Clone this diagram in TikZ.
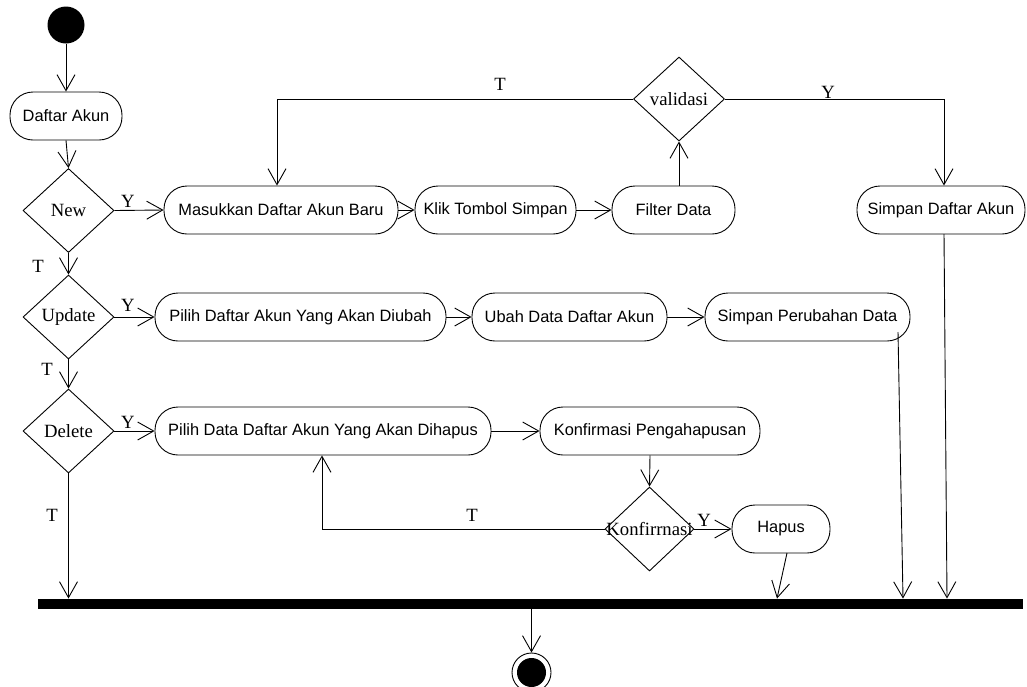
\documentclass[tikz,border=0pt]{standalone}
\usepackage{fontspec}
\setmainfont{Liberation Serif}
\setsansfont{Liberation Sans}
\usetikzlibrary{arrows.meta,shapes.geometric}
\begin{document}
\begin{tikzpicture}[x=1pt,y=-1pt,
  line width=0.9pt,
  flow/.style={-{Straight Barb[length=16pt,width=18pt,line width=0.9pt]}},
  activity/.style={draw,rectangle,rounded corners=23pt,minimum height=48pt,inner sep=0pt,
    font=\sffamily\fontsize{16.4}{19}\selectfont},
  choice/.style={draw,diamond,inner sep=0pt,minimum width=91pt,minimum height=84pt},
  choicetext/.style={font=\rmfamily\fontsize{18.7}{22}\selectfont},
  guard/.style={font=\rmfamily\fontsize{18.7}{22}\selectfont,inner sep=0pt}]
\useasboundingbox (0,0) rectangle (1027,686);

% start / end
\node[circle,fill=black,minimum size=37pt,inner sep=0pt] (start) at (66,25) {};
\node[circle,draw,fill=white,minimum size=39pt,inner sep=0pt,line width=0.9pt] (end) at (531.5,672.5) {};
\fill[black] (end.center) circle (14.5pt);

% synchronisation bar
\node[fill=black,minimum width=985pt,minimum height=10pt,inner sep=0pt] (bar) at (530.5,604) {};

% activities
\node[activity,minimum width=112pt] (daftar) at (66,116) {Daftar Akun};
\node[activity,minimum width=234pt] (masuk) at (281,210) {Masukkan Daftar Akun Baru};
\node[activity,minimum width=161pt] (klik) at (495.5,210) {Klik Tombol Simpan};
\node[activity,minimum width=123pt] (filter) at (673.5,210) {Filter Data};
\node[activity,minimum width=168pt] (simpanakun) at (941,210) {Simpan Daftar Akun};
\node[activity,minimum width=291pt] (pilihubah) at (300.5,317) {Pilih Daftar Akun Yang Akan Diubah};
\node[activity,minimum width=195pt] (ubah) at (569.5,317) {Ubah Data Daftar Akun};
\node[activity,minimum width=205pt] (simpanubah) at (807.5,317) {Simpan Perubahan Data};
\node[activity,minimum width=336pt] (pilihhapus) at (323,431) {Pilih Data Daftar Akun Yang Akan Dihapus};
\node[activity,minimum width=220pt] (konfpeng) at (650,431) {Konfirmasi Pengahapusan};
\node[activity,minimum width=98pt] (hapus) at (781,529) {Hapus};

% decisions
\node[choice,label={[choicetext]center:New}] (new) at (68.5,210.5) {};
\node[choice,label={[choicetext]center:Update}] (update) at (68.5,317) {};
\node[choice,label={[choicetext]center:Delete}] (delete) at (68.5,431) {};
\node[choice,label={[choicetext]center:validasi}] (valid) at (679,99) {};
\node[choice,minimum width=89pt,label={[choicetext]center:Konfirrnasi}] (konf) at (649.5,529) {};

% free ends of connectors
\coordinate (ubahout) at (898,332);
\coordinate (hapusout) at (787,553);
\coordinate (akunout) at (944,234);

% flows
\draw[flow] (start) -- (daftar);
\draw[flow] (daftar.south) -- (new.north);
\draw[flow] (new.east) -- (masuk.west);
\draw[flow] (masuk.east) -- (klik.west);
\draw[flow] (klik.east) -- (filter.west);
\draw[flow] (valid.south |- filter.north) -- (valid.south);
\draw[flow] (valid.west) -| ([xshift=-4pt]masuk.north);
\draw[flow] (valid.east) -| (akunout |- simpanakun.north);
\draw[flow] (akunout) -- ([xshift=3pt]akunout |- bar.north);

\draw[flow] (new.south) -- (update.north);
\draw[flow] (update.east) -- (pilihubah.west);
\draw[flow] (pilihubah.east) -- (ubah.west);
\draw[flow] (ubah.east) -- (simpanubah.west);
\draw[flow] (ubahout) -- ([xshift=5pt]ubahout |- bar.north);

\draw[flow] (update.south) -- (delete.north);
\draw[flow] (delete.east) -- (pilihhapus.west);
\draw[flow] (pilihhapus.east) -- (konfpeng.west);
\draw[flow] (konfpeng.south) -- (konf.north);
\draw[flow] (konf.west) -| ([xshift=-1pt]pilihhapus.south);
\draw[flow] (konf.east) -- (hapus.west);
\draw[flow] (hapusout) -- ([xshift=-10pt]hapusout |- bar.north);
\draw[flow] (delete.south) -- (delete.south |- bar.north);

\draw[flow] (end.north |- bar.south) -- (end.north);

% guards
\node[guard] (gnewy) at (128,201) {Y};
\node[guard] (gnewt) at (38,266) {T};
\node[guard] (gupdy) at (128,305) {Y};
\node[guard] (gupdt) at (47,369) {T};
\node[guard] (gdely) at (128,422) {Y};
\node[guard] (gdelt) at (52,515) {T};
\node[guard] (gvalt) at (500,84) {T};
\node[guard] (gvaly) at (828,92) {Y};
\node[guard] (gkonft) at (472,515) {T};
\node[guard] (gkonfy) at (704,520) {Y};
\end{tikzpicture}
\end{document}
